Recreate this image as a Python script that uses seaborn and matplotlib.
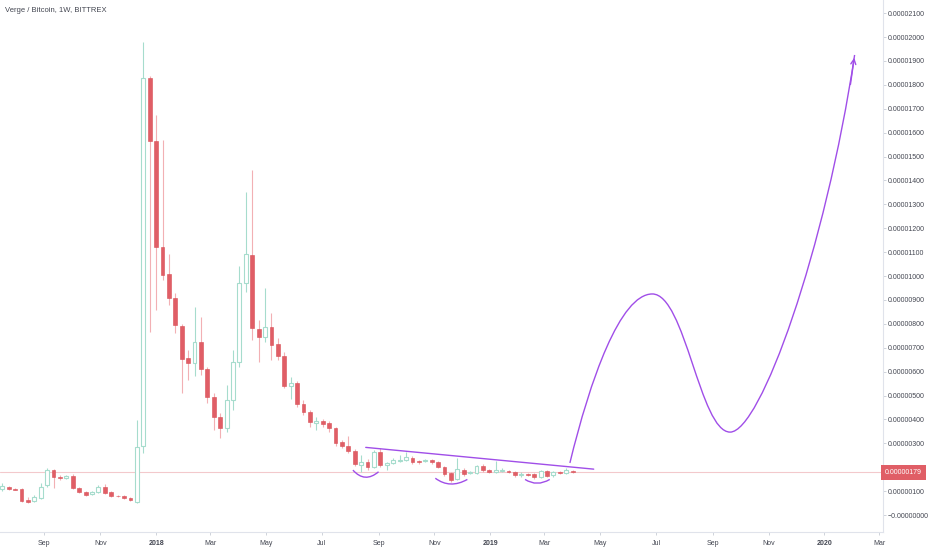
import pandas as pd
import matplotlib
matplotlib.use("Agg")
import matplotlib.pyplot as plt
import matplotlib.dates as mdates
import matplotlib.transforms as mtransforms
from matplotlib.path import Path
from matplotlib.patches import PathPatch, FancyArrowPatch
import seaborn as sns

sns.set_theme(style="white")
plt.rcParams["font.family"] = ["Liberation Sans", "DejaVu Sans"]

# weekly XVG/BTC candles, values in satoshi (1e-8 BTC)
first_week = "2017-07-17"
opens = [109, 117, 110, 109, 63, 59, 71, 125, 188, 159, 155, 163, 113, 96, 88, 96, 117, 96, 80, 80, 71,
         54, 288, 1828, 1565, 1121, 1008, 908, 791, 657, 636, 724, 611, 494, 410, 364, 481, 640, 971, 1088,
         778, 745, 787, 715, 665, 540, 552, 464, 431, 385, 393, 385, 364, 305, 289, 268, 209, 222, 201, 264,
         209, 218, 226, 230, 239, 226, 226, 230, 222, 201, 176, 151, 188, 176, 176, 205, 188, 180, 184, 184,
         180, 167, 172, 172, 159, 184, 167, 180, 176, 184]
highs = [134, 122, 113, 112, 75, 84, 134, 197, 192, 167, 167, 172, 117, 100, 100, 125, 130, 100, 84, 84, 75,
         397, 1979, 1835, 1674, 1569, 1092, 929, 800, 690, 870, 828, 619, 510, 427, 544, 690, 1042, 1351, 1443,
         816, 950, 845, 740, 682, 577, 560, 481, 440, 410, 400, 395, 370, 315, 331, 275, 251, 235, 272, 280,
         222, 240, 251, 264, 245, 232, 236, 236, 226, 205, 180, 238, 197, 185, 210, 212, 192, 226, 195, 190,
         184, 180, 176, 176, 190, 190, 185, 186, 195, 190]
lows = [100, 104, 103, 55, 50, 55, 67, 117, 113, 146, 150, 109, 92, 80, 84, 92, 88, 76, 75, 67, 59,
        50, 259, 766, 858, 983, 880, 761, 510, 565, 581, 586, 469, 356, 322, 347, 439, 619, 933, 732,
        640, 724, 648, 648, 530, 485, 450, 420, 368, 356, 370, 347, 290, 280, 260, 205, 180, 188, 195, 200,
        188, 212, 220, 225, 215, 215, 220, 215, 195, 165, 140, 146, 165, 170, 172, 180, 176, 176, 178, 175,
        160, 160, 162, 150, 155, 158, 160, 172, 172, 175]
closes = [121, 109, 106, 59, 55, 75, 117, 188, 159, 155, 163, 113, 96, 84, 96, 117, 92, 80, 78, 71, 63,
          285, 1828, 1565, 1121, 1004, 908, 795, 653, 636, 724, 611, 494, 410, 364, 481, 640, 971, 1092, 782,
          745, 787, 711, 665, 540, 552, 464, 431, 389, 393, 381, 364, 301, 289, 268, 213, 222, 201, 264, 209,
          218, 230, 230, 243, 222, 222, 230, 222, 201, 172, 146, 192, 172, 180, 205, 188, 180, 188, 188, 180,
          167, 172, 167, 159, 184, 163, 180, 176, 188, 179]
last_price = 179

# hand drawn annotations (dates, satoshi)
trend_dates = ["2018-08-18", "2019-04-24"]
trend_values = [283, 192]
# each arc: start, control, end (quadratic curve)
arc_dates = [["2018-08-04", "2018-08-17", "2018-09-01"],
             ["2018-11-02", "2018-11-18", "2018-12-07"],
             ["2019-02-08", "2019-02-21", "2019-03-07"]]
arc_values = [[188, 132, 181], [154, 108, 149], [149, 117, 149]]
# projection: start + three cubic segments
proj_dates = ["2019-03-29", "2019-04-20", "2019-05-23", "2019-06-27", "2019-08-02", "2019-08-18",
              "2019-09-20", "2019-10-23", "2020-01-02", "2020-02-03"]
proj_values = [218, 565, 925, 925, 925, 347, 347, 347, 1109, 1925]
arrow_tail = ("2020-01-29", 1790)

y_ticks = list(range(0, 2200, 100))
y_tick_labels = ["\u22120.00000000"] + [f"{v * 1e-8:.8f}" for v in y_ticks[1:]]
x_tick_dates = ["2017-09-01", "2017-11-01", "2018-01-01", "2018-03-01", "2018-05-01", "2018-07-01",
                "2018-09-01", "2018-11-01", "2019-01-01", "2019-03-01", "2019-05-01", "2019-07-01",
                "2019-09-01", "2019-11-01", "2020-01-01", "2020-03-01"]
x_tick_labels = ["Sep", "Nov", "2018", "Mar", "May", "Jul", "Sep", "Nov", "2019", "Mar", "May", "Jul",
                 "Sep", "Nov", "2020", "Mar"]

up_color = "#a6dccd"
down_body = "#e05e66"
down_edge = "#d84e56"
down_wick = "#f2b0b4"
draw_color = "#a04ee8"
text_color = "#434651"
axis_color = "#e0e3eb"

df = pd.DataFrame({"open": opens, "high": highs, "low": lows, "close": closes})
df["week"] = pd.date_range(first_week, periods=len(df), freq="7D")
df["x"] = mdates.date2num(df["week"])
df["up"] = df["close"] >= df["open"]

fig = plt.figure(figsize=(9.32, 5.5), dpi=100)
ax = fig.add_axes([0, 18 / 550, 883 / 932, 532 / 550])

up = df[df["up"]]
down = df[~df["up"]]
ax.vlines(up["x"], up["low"], up["high"], color=up_color, lw=0.8, zorder=2)
ax.vlines(down["x"], down["low"], down["high"], color=down_wick, lw=0.8, zorder=2)
ax.bar(up["x"], (up["close"] - up["open"]).clip(lower=2), bottom=up["open"], width=4.2,
       facecolor="white", edgecolor=up_color, linewidth=0.8, zorder=3)
ax.bar(down["x"], (down["close"] - down["open"]).abs().clip(lower=3), bottom=down["close"], width=4.2,
       facecolor=down_body, edgecolor=down_edge, linewidth=0.4, zorder=3)

# last price line
ax.axhline(last_price, color="#f3c9cc", lw=0.8, zorder=1)

# trend line
sns.lineplot(x=mdates.date2num(pd.to_datetime(trend_dates)), y=trend_values, ax=ax,
             color=draw_color, lw=1.0, zorder=4)

for d, v in zip(arc_dates, arc_values):
    pts = list(zip(mdates.date2num(pd.to_datetime(d)), v))
    ax.add_patch(PathPatch(Path(pts, [Path.MOVETO, Path.CURVE3, Path.CURVE3]),
                           fill=False, edgecolor=draw_color, lw=1.0, zorder=4))

proj_pts = list(zip(mdates.date2num(pd.to_datetime(proj_dates)), proj_values))
ax.add_patch(PathPatch(Path(proj_pts, [Path.MOVETO] + [Path.CURVE4] * 9),
                       fill=False, edgecolor=draw_color, lw=1.0, zorder=4))
ax.add_patch(FancyArrowPatch((mdates.date2num(pd.Timestamp(arrow_tail[0])), arrow_tail[1]),
                             proj_pts[-1], arrowstyle="->", mutation_scale=9,
                             color=draw_color, lw=1.0, zorder=4))

ax.set_xlim(mdates.date2num(pd.Timestamp("2017-07-14 12:00")), mdates.date2num(pd.Timestamp("2020-03-05")))
ax.set_ylim(-71, 2155)

ax.yaxis.tick_right()
ax.set_yticks(y_ticks)
ax.set_yticklabels(y_tick_labels)
ax.set_xticks(mdates.date2num(pd.to_datetime(x_tick_dates)))
ax.set_xticklabels(x_tick_labels)
for lab in ax.get_xticklabels():
    if lab.get_text().isdigit():
        lab.set_fontweight("bold")

ax.tick_params(axis="y", right=True, left=False, length=2, width=0.6, color="#c8ccd4",
               labelsize=5.0, labelcolor=text_color, pad=1.5)
ax.tick_params(axis="x", bottom=True, length=2, width=0.6, color="#c8ccd4",
               labelsize=5.0, labelcolor=text_color, pad=4)
for s in ["top", "left"]:
    ax.spines[s].set_visible(False)
for s in ["right", "bottom"]:
    ax.spines[s].set_color(axis_color)
    ax.spines[s].set_linewidth(0.8)
ax.grid(False)

# price label on the axis
trans = mtransforms.blended_transform_factory(ax.transAxes, ax.transData)
ax.text(1.002, last_price, f"{last_price * 1e-8:.8f}", transform=trans, ha="left", va="center",
        fontsize=5.0, color="white", clip_on=False, zorder=10,
        bbox=dict(boxstyle="square,pad=0.55", facecolor=down_body, edgecolor="none"))

fig.text(5 / 932, 1 - 11 / 550, "Verge / Bitcoin, 1W, BITTREX", fontsize=5.5, color=text_color,
         ha="left", va="center")

fig.savefig("out.png", dpi=100)
